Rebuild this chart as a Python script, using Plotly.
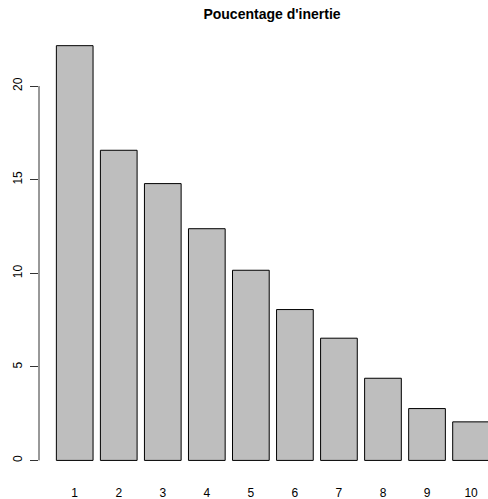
import plotly.graph_objects as go

categories = ["1", "2", "3", "4", "5", "6", "7", "8", "9", "10"]
inertie = [22.16, 16.57, 14.79, 12.38, 10.16, 8.06, 6.53, 4.39, 2.77, 2.06]
yticks = [0, 5, 10, 15, 20]
title = "Poucentage d'inertie"

fig = go.Figure(go.Bar(
    x=categories, y=inertie,
    marker=dict(color="#BEBEBE", line=dict(color="black", width=1)),
))

fig.add_shape(type="line", xref="paper", yref="y",
              x0=0, x1=0, y0=min(yticks), y1=max(yticks),
              line=dict(color="#333333", width=1))

fig.update_layout(
    width=488, height=499,
    margin=dict(l=39, r=0, t=29, b=22),
    paper_bgcolor="white", plot_bgcolor="white",
    bargap=0.2 / 1.2,
    showlegend=False,
    font=dict(family="Liberation Sans, Arial, sans-serif", size=12, color="black"),
    title=dict(text="<b>" + title + "</b>", x=272 / 488, xref="container", xanchor="center",
               y=1 - 14 / 499, yanchor="middle",
               font=dict(size=14, family="Liberation Sans, Arial, sans-serif", color="black")),
    xaxis=dict(type="category", range=[-0.811, 9.385], showline=False, showgrid=False,
               zeroline=False, ticks="outside", ticklen=5, tickcolor="rgba(0,0,0,0)",
               tickfont=dict(size=12)),
    yaxis=dict(range=[-0.886, 23.05], tickvals=yticks, showline=False, showgrid=False,
               zeroline=False, ticks="outside", ticklen=8, tickcolor="#333333",
               tickangle=-90, ticklabelstandoff=3, tickfont=dict(size=12)),
)

fig.write_html("out.html")
